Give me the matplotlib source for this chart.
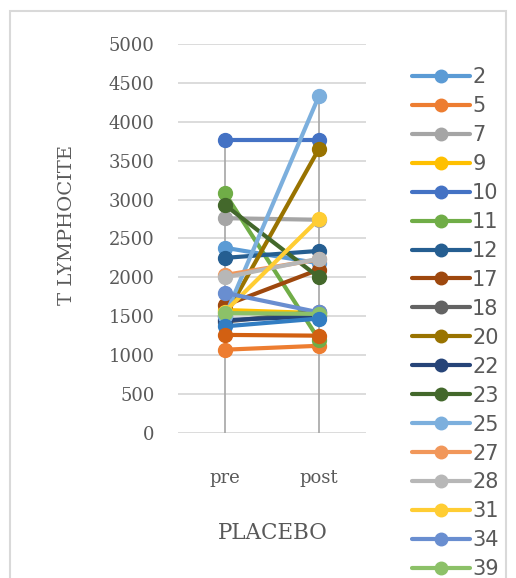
import matplotlib.pyplot as plt
import matplotlib.patches as mpatches
import numpy as np

# T lymphocyte counts, placebo group (pre / post)
categories = ["pre", "post"]
# last two series have their legend entries cut off in the original chart
patients = ["2", "5", "7", "9", "10", "11", "12", "17", "18", "20",
            "22", "23", "25", "27", "28", "31", "34", "39", "_s19", "_s20"]
pre_vals = [2380, 1070, 2760, 1580, 3760, 3080, 2250, 1640, 1430, 1500,
            1450, 2930, 1500, 2030, 2000, 1560, 1800, 1540, 1370, 1260]
post_vals = [2180, 1120, 2740, 1540, 3760, 1200, 2340, 2100, 1560, 3650,
             1500, 2000, 4330, 2230, 2240, 2750, 1550, 1530, 1470, 1250]
colors = ["#5B9BD5", "#ED7D31", "#A5A5A5", "#FFC000", "#4472C4", "#70AD47",
          "#255E91", "#9E480E", "#636363", "#997300", "#264478", "#43682B",
          "#7CAFDD", "#F1975A", "#B7B7B7", "#FFCD33", "#698ED0", "#8CC168",
          "#327DC2", "#D26012"]

txt = "#595959"
serif = "DejaVu Serif"

fig = plt.figure(figsize=(5.16, 5.78), dpi=100)
ax = fig.add_axes([0.345, 0.251, 0.364, 0.673])

x = np.arange(len(categories))
# drop lines from the highest point down to the axis
ax.vlines(x, 0, [max(pre_vals), max(post_vals)], color="#A6A6A6", lw=1.2, zorder=1)

for name, a, b, c in zip(patients, pre_vals, post_vals, colors):
    ax.plot(x, [a, b], color=c, lw=3, marker="o", markersize=10, label=name,
            solid_capstyle="round", zorder=2)

ax.set_xlim(-0.5, 1.5)
ax.set_ylim(0, 5000)
ax.set_yticks(np.arange(0, 5001, 500))
ax.yaxis.grid(True, color="#D9D9D9", lw=1.3)
ax.set_axisbelow(True)
for s in ax.spines.values():
    s.set_visible(False)
ax.tick_params(length=0)
ax.set_xticks(x)
ax.set_xticklabels(categories, fontfamily=serif, fontsize=13, color=txt)
for lab in ax.get_yticklabels():
    lab.set_fontfamily(serif)
    lab.set_fontsize(13)
    lab.set_color(txt)
ax.tick_params(axis="y", pad=17)
ax.tick_params(axis="x", pad=26)

ax.set_ylabel("T LYMPHOCITE", fontfamily=serif, fontsize=14, color=txt, va="center")
ax.yaxis.set_label_coords(-0.59, 0.535)
ax.set_xlabel("PLACEBO", fontfamily=serif, fontsize=15.5, color=txt, va="center")
ax.xaxis.set_label_coords(0.505, -0.256)

leg = fig.legend(loc="upper left", bbox_to_anchor=(0.798, 0.884), frameon=False,
                 fontsize=15, labelcolor=txt, handlelength=2.8, handletextpad=0.1,
                 labelspacing=0.43, borderaxespad=0, borderpad=0, markerscale=0.9)

# outer chart border
fig.patches.append(mpatches.Rectangle((0.019, -0.02), 0.962, 1.001, transform=fig.transFigure,
                                      fill=False, edgecolor="#D9D9D9", lw=1.5))

fig.savefig("out.png", dpi=100)
